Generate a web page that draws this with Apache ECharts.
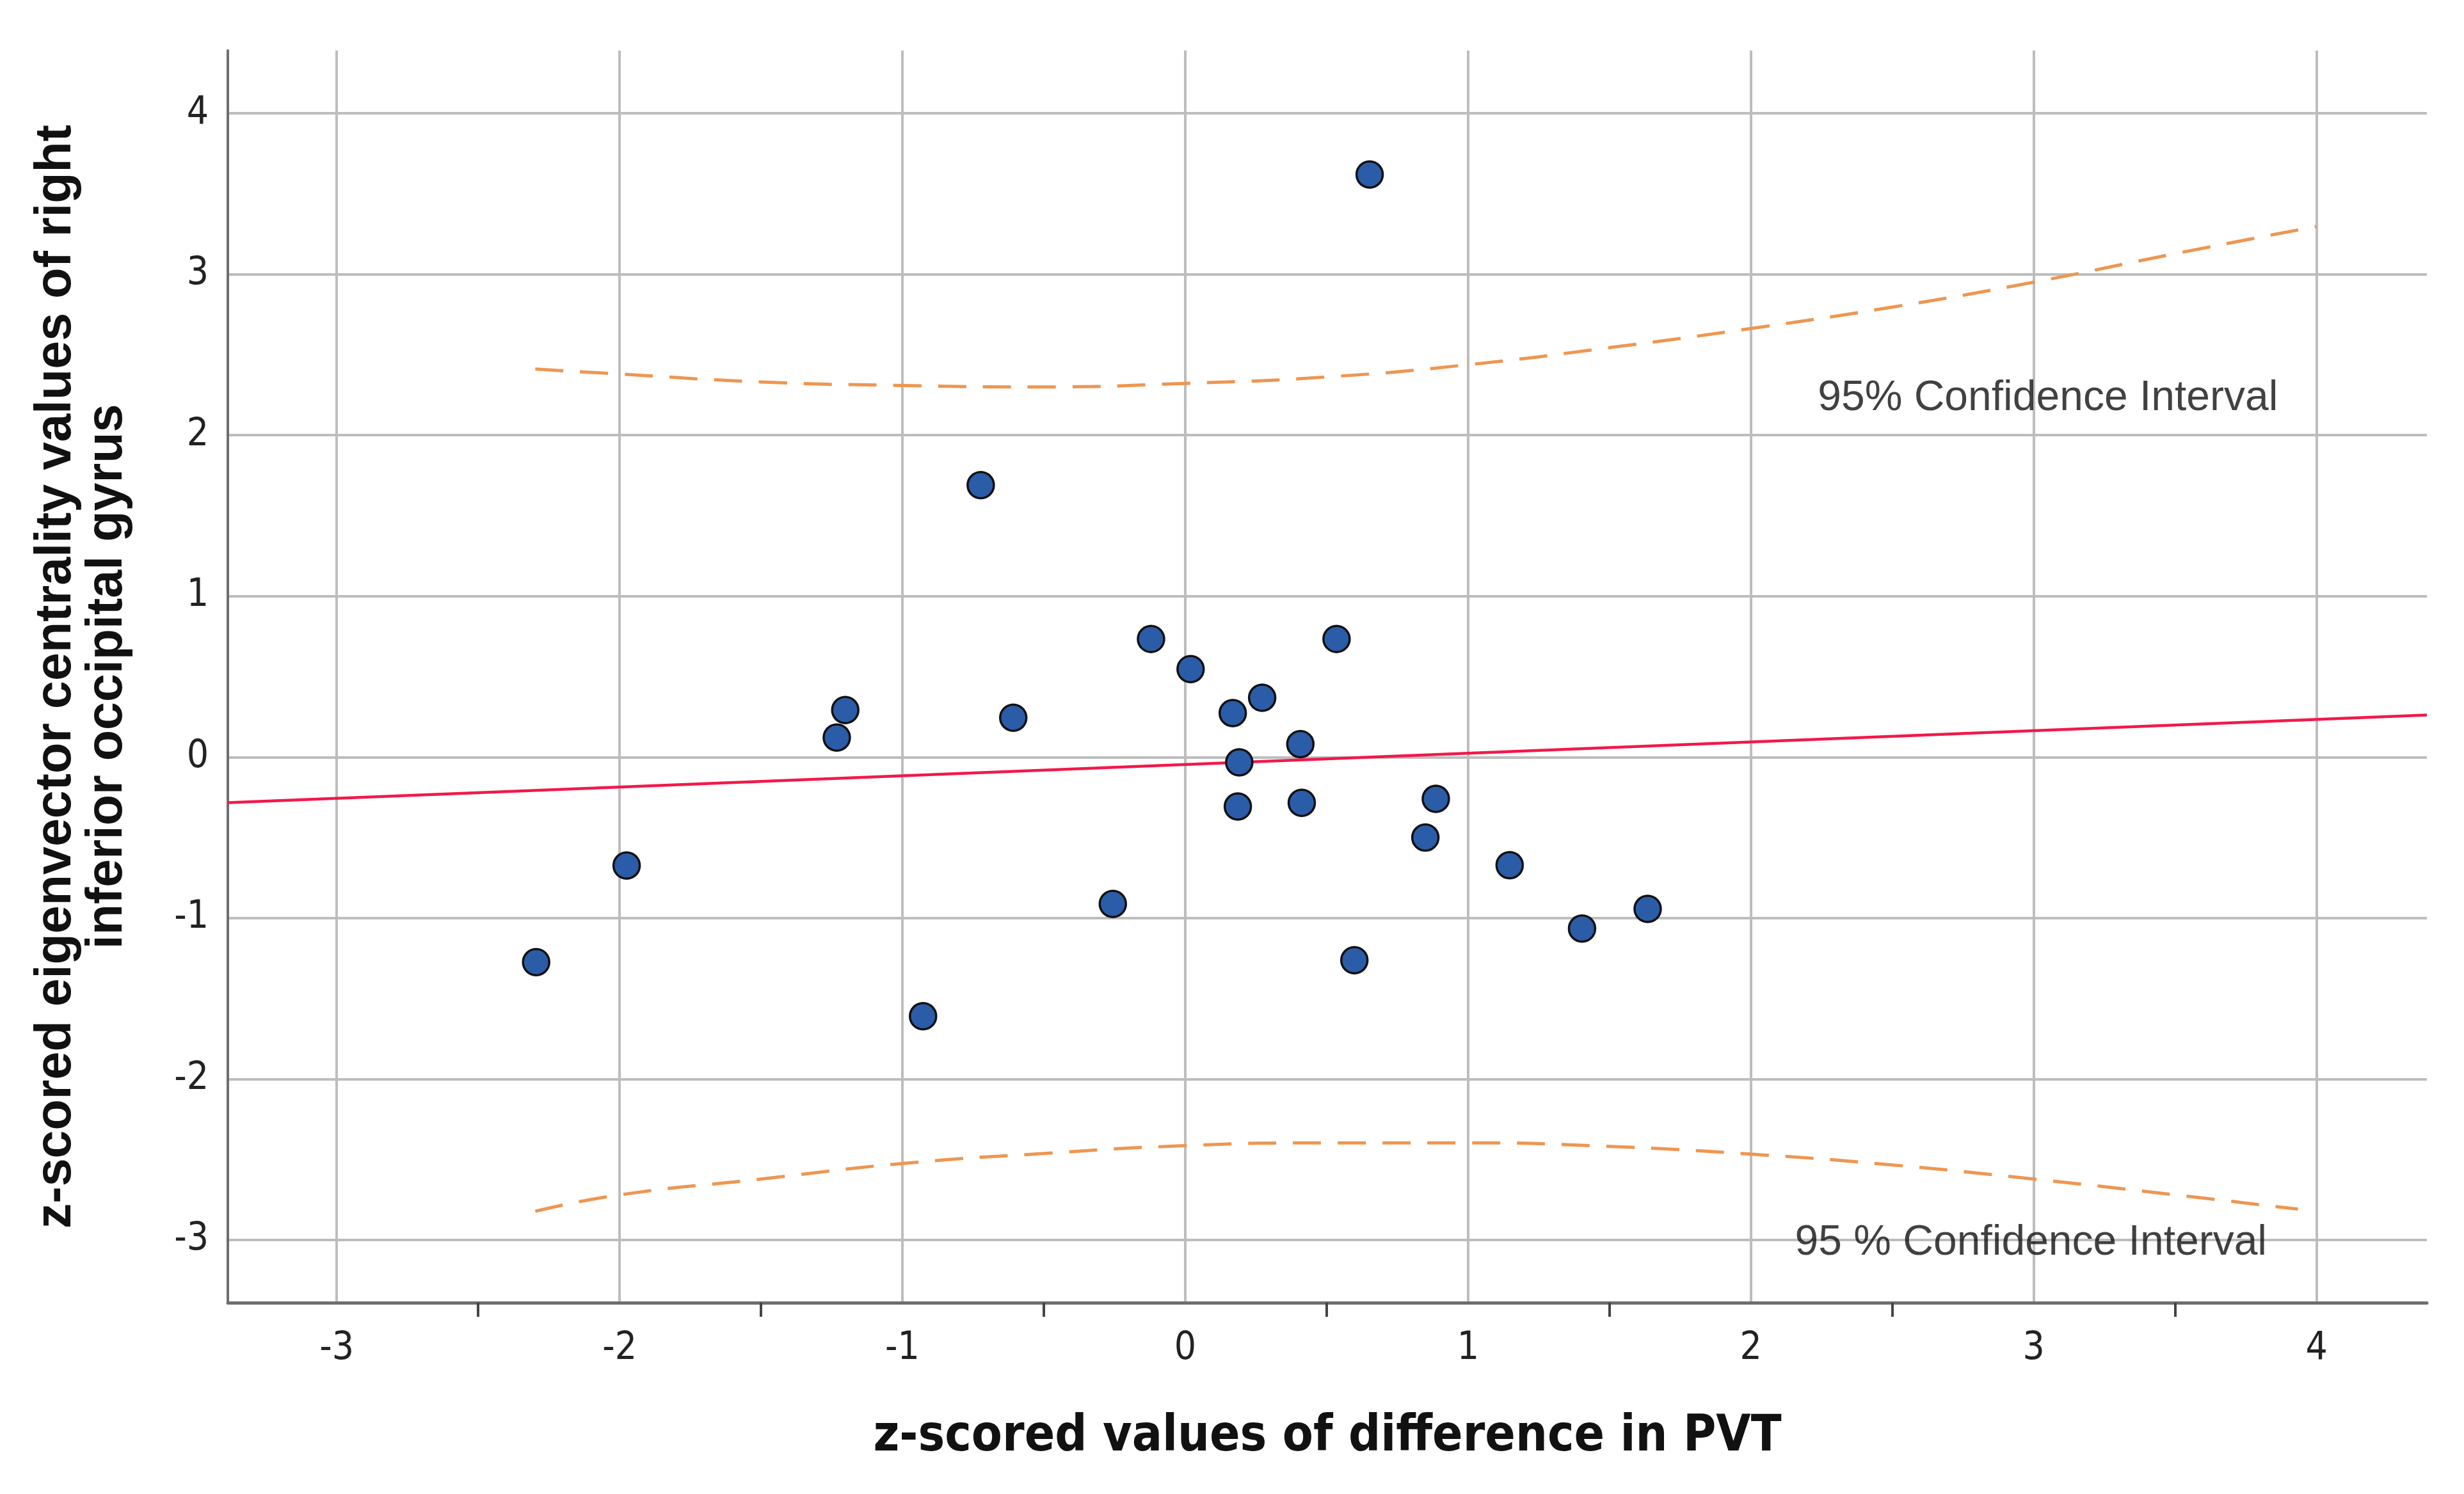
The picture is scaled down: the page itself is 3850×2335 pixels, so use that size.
<!DOCTYPE html>
<html>
<head>
<meta charset="utf-8">
<script src="https://cdn.jsdelivr.net/npm/echarts@6/dist/echarts.min.js"></script>
<style>
html,body{margin:0;padding:0;background:#fff;}
#chart{width:3850px;height:2335px;}
</style>
</head>
<body>
<div id="chart"></div>
<script>
// ---- data ----
const pointsX = [-2.295, -1.975, -1.232, -1.202, -0.927, -0.723, -0.608, -0.256, -0.121, 0.019, 0.168, 0.191,
                 0.186, 0.272, 0.407, 0.412, 0.535, 0.598, 0.652, 0.849, 0.886, 1.147, 1.403, 1.635];
const pointsY = [-1.274, -0.674, 0.121, 0.292, -1.61, 1.69, 0.245, -0.912, 0.734, 0.547, 0.273, -0.033,
                 -0.307, 0.369, 0.081, -0.284, 0.734, -1.262, 3.62, -0.5, -0.259, -0.672, -1.065, -0.943];

const fitX = [-3.385, 4.39];
const fitY = [-0.283, 0.261];

const ciUpperX = [-2.298, -2, -1.5, -1, -0.5, 0, 0.5, 1, 1.5, 2, 2.5, 3, 3.5, 4.0];
const ciUpperY = [2.411, 2.38, 2.331, 2.309, 2.30, 2.322, 2.362, 2.438, 2.544, 2.663, 2.796, 2.951, 3.128, 3.297];
const ciLowerX = [-2.298, -2, -1.5, -1, -0.5, 0, 0.5, 1, 1.5, 2, 2.5, 3, 3.5, 3.934];
const ciLowerY = [-2.822, -2.72, -2.622, -2.525, -2.463, -2.414, -2.397, -2.397, -2.419, -2.467, -2.534, -2.622, -2.72, -2.809];

const annotationText = ['95% Confidence Interval', '95 % Confidence Interval'];
const annotationX = [3.05, 2.99];
const annotationY = [2.227, -3.02];

const tickLabels = [-3, -2, -1, 0, 1, 2, 3, 4];
const xHalfTicks = [-2.5, -1.5, -0.5, 0.5, 1.5, 2.5, 3.5];

const xTitle = 'z-scored values of difference in PVT';
const yTitle = 'z-scored eigenvector centrality values of right\ninferior occipital gyrus';

// ---- chart ----
const zip = (a, b) => a.map((v, i) => [v, b[i]]);
const narrow = "'Liberation Sans Narrow', 'DejaVu Sans Condensed', 'Arial Narrow', sans-serif";
const chart = echarts.init(document.getElementById('chart'), null, {renderer: 'canvas'});

const gridLine = {show: true, showMinLine: false, showMaxLine: false, lineStyle: {color: '#bdbdbd', width: 4}};

chart.setOption({
  animation: false,
  backgroundColor: '#ffffff',
  grid: {left: 356, right: 58, top: 79, bottom: 299, containLabel: false},
  xAxis: [{
    type: 'value', min: -3.385, max: 4.39, minInterval: 1, maxInterval: 1,
    axisLine: {show: true, onZero: false, lineStyle: {color: '#6e6e6e', width: 5}},
    axisTick: {show: false},
    axisLabel: {customValues: tickLabels, fontSize: 60, color: '#222', margin: 42, fontFamily: narrow},
    splitLine: gridLine,
    name: xTitle, nameLocation: 'middle', nameGap: 172,
    nameTextStyle: {fontSize: 78, fontWeight: 'bold', color: '#111', fontFamily: narrow}
  }, {
    type: 'value', min: -3.385, max: 4.39, position: 'bottom', gridIndex: 0,
    axisLine: {show: false, onZero: false},
    axisLabel: {show: false},
    splitLine: {show: false},
    axisTick: {show: true, customValues: xHalfTicks, length: 22, lineStyle: {color: '#444', width: 4}}
  }],
  yAxis: {
    type: 'value', min: -3.39, max: 4.39, minInterval: 1, maxInterval: 1,
    axisLine: {show: true, onZero: false, lineStyle: {color: '#6e6e6e', width: 4}},
    axisTick: {show: false},
    axisLabel: {customValues: tickLabels, fontSize: 60, color: '#222', margin: 30, fontFamily: narrow},
    splitLine: gridLine,
    name: yTitle, nameLocation: 'middle', nameGap: 148, nameRotate: 90,
    nameTextStyle: {fontSize: 79, lineHeight: 80, fontWeight: 'bold', color: '#111', align: 'center',
                    fontFamily: "'Liberation Sans', Arial, sans-serif"}
  },
  series: [
    {
      type: 'line', data: zip(ciUpperX, ciUpperY), smooth: true, symbol: 'none', silent: true,
      lineStyle: {color: '#ee9650', width: 5, type: [44, 26]}, z: 3
    },
    {
      type: 'line', data: zip(ciLowerX, ciLowerY), smooth: true, symbol: 'none', silent: true,
      lineStyle: {color: '#ee9650', width: 5, type: [44, 26]}, z: 3
    },
    {
      type: 'line', data: zip(fitX, fitY), symbol: 'none', silent: true,
      lineStyle: {color: '#f2194a', width: 4.5}, z: 4
    },
    {
      type: 'scatter', data: zip(pointsX, pointsY), symbol: 'circle', symbolSize: 41,
      itemStyle: {color: '#2a5ca8', borderColor: '#111111', borderWidth: 3.5, opacity: 1}, z: 6
    },
    {
      type: 'scatter', symbolSize: 0, silent: true, z: 7,
      data: annotationText.map((t, i) => ({value: [annotationX[i], annotationY[i]], name: t})),
      label: {show: true, position: 'inside', formatter: p => p.name, fontSize: 66, color: '#111',
              fontFamily: "'Liberation Sans', Arial, sans-serif"}
    }
  ]
});
</script>
</body>
</html>
